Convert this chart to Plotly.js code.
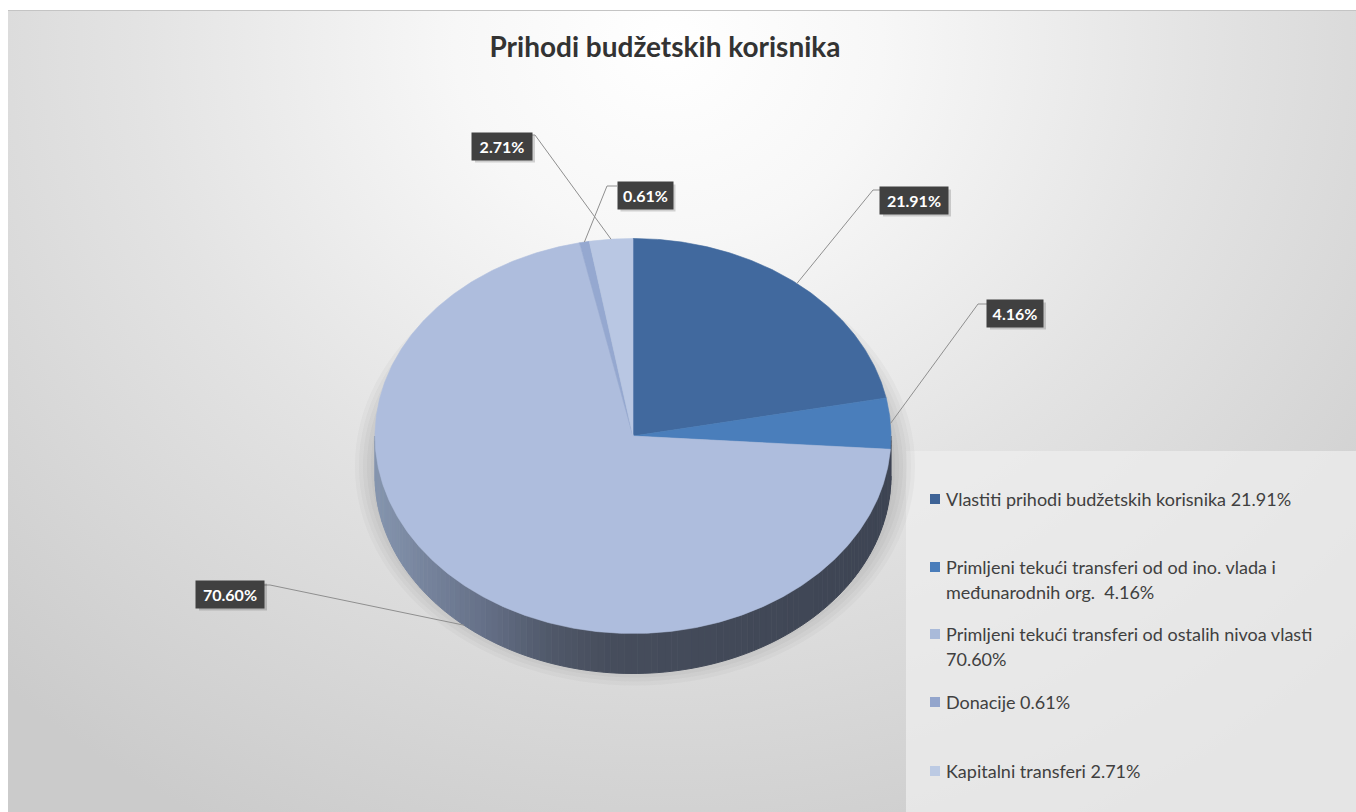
<!DOCTYPE html>
<html><head><meta charset="utf-8">
<script src="https://cdn.plot.ly/plotly-3.0.1.min.js"></script>
<style>
html,body{margin:0;padding:0;background:#fff;overflow:hidden;}
#bg{position:absolute;left:8px;top:10px;width:1348px;height:802px;
 background:radial-gradient(ellipse 72% 110% at 49% 4%, #ffffff 0%, #f7f7f7 22%, #e3e3e3 55%, #cbcbcb 100%);
 border-top:1px solid #c4c4c4;}
#chart{position:absolute;left:0;top:0;width:1356px;height:812px;}
</style></head><body><div id="bg"></div><div id="chart"></div>
<script>
// ---- data ----
const categories = [
  'Vlastiti prihodi budžetskih korisnika',
  'Primljeni tekući transferi od od ino. vlada i međunarodnih org.',
  'Primljeni tekući transferi od ostalih nivoa vlasti',
  'Donacije',
  'Kapitalni transferi'
];
const shares = [21.91, 4.16, 70.60, 0.61, 2.71];
const valueLabels = ['21.91%', '4.16%', '70.60%', '0.61%', '2.71%'];
const legendLabels = [
  'Vlastiti prihodi budžetskih korisnika 21.91%',
  'Primljeni tekući transferi od od ino. vlada i\nmeđunarodnih org.  4.16%',
  'Primljeni tekući transferi od ostalih nivoa vlasti\n70.60%',
  'Donacije 0.61%',
  'Kapitalni transferi 2.71%'
];
const chartTitle = 'Prihodi budžetskih korisnika';

// ---- styling / layout ----
const sliceColors = ['#41699e', '#4a7ebb', '#aebddd', '#95a8d0', '#b9c7e3'];
const legendColors = ['#3e6396', '#4a7dba', '#a9bad9', '#93a5cc', '#bccae3'];
const cx = 633, cy = 436, ra = 258, rb = 197.5, depth = 40;
// label boxes: center, size, elbow, box attach point
const labelBoxes = [
  {x: 914, y: 200, w: 68, h: 27, ex: 873, ey: 190, bx: 880, by: 190, d: 0},
  {x: 1015, y: 313, w: 56, h: 27, ex: 978, ey: 304, bx: 987, by: 304, d: 0},
  {x: 230, y: 594, w: 68, h: 27, ex: 270, ey: 585, bx: 264, by: 585, d: depth},
  {x: 645, y: 195, w: 55, h: 27, ex: 607, ey: 186, bx: 617, by: 186, d: 0},
  {x: 502, y: 146, w: 60, h: 27, ex: 535, ey: 135, bx: 528, by: 135, d: 0}
];
const legendRows = [499, 567, 634, 702, 771];
const legendLineGap = 25;

function pt(theta, dy) {
  const r = theta * Math.PI / 180;
  return [cx + ra * Math.sin(r), cy - rb * Math.cos(r) + (dy || 0)];
}
function hex2rgb(h){return [1,3,5].map(i=>parseInt(h.substr(i,2),16));}
function mix(c1,c2,t){const a=hex2rgb(c1),b=hex2rgb(c2);return 'rgb('+a.map((v,i)=>Math.round(v+(b[i]-v)*t)).join(',')+')';}
// side shading by horizontal position (light at left, dark at right)
const sideStops = [[375,'#8595ae'],[430,'#75829b'],[490,'#636e85'],[550,'#505869'],[610,'#464d5c'],[891,'#3d4453']];
function sideColor(x) {
  if (x <= sideStops[0][0]) return sideStops[0][1];
  for (let k = 0; k < sideStops.length - 1; k++) {
    const [t1,c1] = sideStops[k], [t2,c2] = sideStops[k+1];
    if (x <= t2) return mix(c1, c2, (x - t1) / (t2 - t1));
  }
  return sideStops[sideStops.length-1][1];
}

const total = shares.reduce((s, v) => s + v, 0);
const bounds = [];
let acc = 0;
shares.forEach(v => { const t1 = acc / total * 360; acc += v; bounds.push([t1, acc / total * 360]); });

const traces = [];
// sides
bounds.forEach(([t1, t2], i) => {
  const s1 = Math.max(t1, 90), s2 = Math.min(t2, 270);
  if (s2 <= s1) return;
  const n = Math.max(1, Math.ceil((s2 - s1) / 1.5));
  for (let k = 0; k < n; k++) {
    const a1 = s1 + (s2 - s1) * k / n, a2 = s1 + (s2 - s1) * (k + 1) / n;
    const xs = [], ys = [];
    for (let j = 0; j <= 3; j++) { const p = pt(a1 + (a2 - a1) * j / 3, 0); xs.push(p[0]); ys.push(p[1]); }
    for (let j = 3; j >= 0; j--) { const p = pt(a1 + (a2 - a1) * j / 3, depth); xs.push(p[0]); ys.push(p[1]); }
    const col = sideColor(pt((a1 + a2) / 2, 0)[0]);
    traces.push({type: 'scatter', mode: 'lines', x: xs, y: ys, fill: 'toself', fillcolor: col,
      line: {color: col, width: 1}, hoverinfo: 'skip', showlegend: false});
  }
});
// top faces
bounds.forEach(([t1, t2], i) => {
  const xs = [cx], ys = [cy];
  const n = Math.max(2, Math.ceil((t2 - t1) / 0.5));
  for (let j = 0; j <= n; j++) { const p = pt(t1 + (t2 - t1) * j / n, 0); xs.push(p[0]); ys.push(p[1]); }
  xs.push(cx); ys.push(cy);
  traces.push({type: 'scatter', mode: 'lines', x: xs, y: ys, fill: 'toself', fillcolor: sliceColors[i],
    line: {color: sliceColors[i], width: 0.6}, name: categories[i], hoverinfo: 'skip', showlegend: false});
});
// leader lines
bounds.forEach(([t1, t2], i) => {
  const L = labelBoxes[i];
  const p = pt((t1 + t2) / 2, L.d);
  traces.push({type: 'scatter', mode: 'lines', x: [p[0], L.ex, L.bx], y: [p[1], L.ey, L.by],
    line: {color: '#8f8f8f', width: 1}, hoverinfo: 'skip', showlegend: false});
});

const shapes = [];
// legend panel
shapes.push({type: 'rect', xref: 'x', yref: 'y', x0: 906, x1: 1360, y0: 451, y1: 815, layer: 'below',
  fillcolor: 'rgba(238,238,238,0.75)', line: {width: 0}});
// soft drop shadow under pie
for (let k = 0; k < 6; k++) {
  const g = 2 + k * 4;
  shapes.push({type: 'circle', xref: 'x', yref: 'y', layer: 'below',
    x0: cx + 2 - ra - g, x1: cx + 2 + ra + g, y0: cy + 30 - rb - g, y1: cy + 30 + rb + g,
    fillcolor: 'rgba(80,80,80,0.04)', line: {width: 0}});
}
const annotations = [];
labelBoxes.forEach((L, i) => {
  shapes.push({type: 'rect', xref: 'x', yref: 'y', x0: L.x - L.w / 2 + 3, x1: L.x + L.w / 2 + 3,
    y0: L.y - L.h / 2 + 3, y1: L.y + L.h / 2 + 3, fillcolor: 'rgba(0,0,0,0.16)', line: {width: 0}});
  annotations.push({xref: 'x', yref: 'y', x: L.x, y: L.y, text: '<b>' + valueLabels[i] + '</b>', showarrow: false,
    width: L.w, height: L.h, bgcolor: '#404040', borderpad: 0, align: 'center', valign: 'middle',
    font: {family: 'Lato, "Open Sans", sans-serif', size: 16, color: '#ffffff'}});
});
legendLabels.forEach((lab, i) => {
  const y0 = legendRows[i];
  shapes.push({type: 'rect', xref: 'x', yref: 'y', x0: 930, x1: 940, y0: y0 - 5, y1: y0 + 5,
    fillcolor: legendColors[i], line: {width: 0}});
  lab.split('\n').forEach((line, j) => {
    annotations.push({xref: 'x', yref: 'y', x: 944, y: y0 + j * legendLineGap, text: line, showarrow: false,
      xanchor: 'left', yanchor: 'middle', align: 'left',
      font: {family: 'Lato, "Open Sans", sans-serif', size: 18, color: '#404040'}});
  });
});

const layout = {
  width: 1356, height: 812,
  margin: {l: 0, r: 0, t: 0, b: 0},
  paper_bgcolor: 'rgba(0,0,0,0)', plot_bgcolor: 'rgba(0,0,0,0)',
  title: {text: '<b>' + chartTitle + '</b>', x: 665 / 1356, xanchor: 'center', xref: 'paper',
    y: 1 - 47 / 812, yanchor: 'middle', yref: 'container',
    font: {family: 'Lato, "Open Sans", sans-serif', size: 28, color: '#333333'}},
  xaxis: {range: [0, 1356], visible: false, fixedrange: true},
  yaxis: {range: [812, 0], visible: false, fixedrange: true},
  showlegend: false,
  shapes: shapes, annotations: annotations
};
Plotly.newPlot('chart', traces, layout, {displayModeBar: false, staticPlot: true});
</script></body></html>
